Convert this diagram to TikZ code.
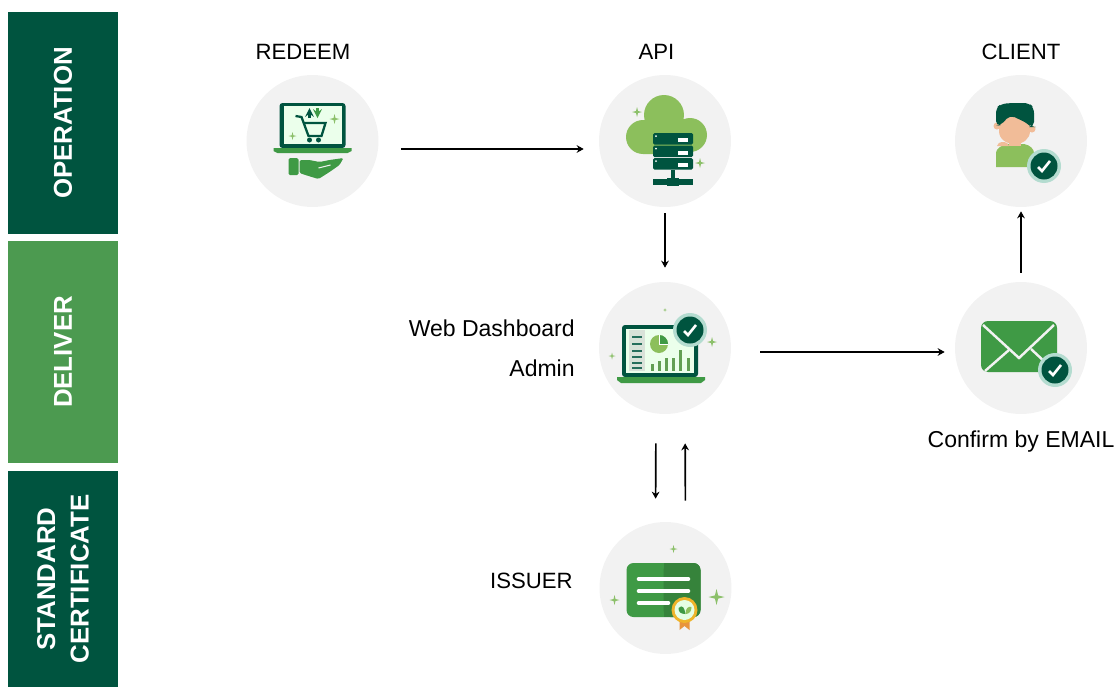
\documentclass[tikz,border=0pt]{standalone}
\usepackage{fontspec}
\setmainfont{Liberation Sans}
\usetikzlibrary{arrows.meta,positioning}
\definecolor{darkgreen}{HTML}{00543F}
\definecolor{midgreen}{HTML}{4C9A50}
\definecolor{leafgreen}{HTML}{3F9A45}
\definecolor{cloudgreen}{HTML}{8CBF5C}
\definecolor{sparkgreen}{HTML}{8CC06A}
\definecolor{halo}{HTML}{B4DCD0}
\definecolor{skin}{HTML}{F1BC98}
\definecolor{medal}{HTML}{E8943C}
\tikzstyle{iconcircle}=[circle,fill=black!5,minimum size=2.64cm,inner sep=0pt]
\tikzstyle{bar}=[rotate=90,minimum height=2.2cm,inner sep=0pt,text=white,align=center,font=\fontsize{14.7}{19}\selectfont\bfseries]
\tikzstyle{edge} = [draw,line width=0.95pt,-{Stealth[length=4pt,width=4.4pt]}]
\tikzstyle{tag} = [inner sep=0pt,font=\fontsize{13.1}{16}\selectfont]
\tikzstyle{captag} = [inner sep=0pt,font=\fontsize{12.6}{16}\selectfont]
\newcommand{\sparkle}[3]{\fill[sparkgreen] (#1,#2-#3) -- (#1+#3*0.2,#2-#3*0.2) -- (#1+#3,#2) -- (#1+#3*0.2,#2+#3*0.2) -- (#1,#2+#3) -- (#1-#3*0.2,#2+#3*0.2) -- (#1-#3,#2) -- (#1-#3*0.2,#2-#3*0.2) -- cycle;}
\newcommand{\checkbadge}[2]{
    \fill[halo] (#1,#2) circle (0.34cm);
    \fill[darkgreen] (#1,#2) circle (0.27cm);
    \draw[white,line width=1.5pt] (#1-6,#2+1) -- (#1-2,#2+5) -- (#1+6,#2-5);
}
\begin{document}
\begin{tikzpicture}[x=0.02cm,y=-0.02cm]
   \useasboundingbox (0,0) rectangle (1117,687);

   \node[bar,fill=darkgreen,minimum width=4.44cm] (operation) at (63,123) {OPERATION};
   \node[bar,fill=midgreen,minimum width=4.44cm] (deliver) at (63,352) {DELIVER};
   \node[bar,fill=darkgreen,minimum width=4.32cm] (standard) at (63,579) {STANDARD\\CERTIFICATE};

    \foreach \pos/\name in {{(312.5,141)/redeem}, {(665,141)/api}, {(1021,141)/client}, {(665,348)/dashboard}, {(1021,348)/email}, {(665.5,588)/issuer}}
            \node[iconcircle] (\name) at \pos {};

    \foreach \pos/\name/\text in {{(303,52)/redeemlabel/REDEEM}, {(656.5,52)/apilabel/API}, {(1021,52)/clientlabel/CLIENT}}
            \node[captag] (\name) at \pos {\text};
    \node[tag] (emaillabel) at (1021,442) {Confirm by EMAIL};
    \node[tag,anchor=east] (weblabel) at (575,328) {Web Dashboard};
    \node[tag,anchor=east] (adminlabel) at (575,368) {Admin};
    \node[captag,anchor=east] (issuerlabel) at (573,581) {ISSUER};

   \path[edge,shorten <=0.44cm,shorten >=0.3cm] ([yshift=-0.16cm]redeem.east) -- ([yshift=-0.16cm]api.west);
   \path[edge,shorten <=0.12cm,shorten >=0.28cm] (api.south) -- (dashboard.north);
   \path[edge,shorten <=0.58cm,shorten >=0.2cm] ([yshift=-0.08cm]dashboard.east) -- ([yshift=-0.08cm]email.west);
   \path[edge,shorten <=0.18cm,shorten >=0.08cm] (email.north) -- (client.south);
   \path[edge,shorten <=0.58cm,shorten >=0.46cm] ([xshift=-0.18cm]dashboard.south) -- ([xshift=-0.2cm]issuer.north);
   \path[edge,shorten <=0.42cm,shorten >=0.58cm] ([xshift=0.4cm]issuer.north) -- ([xshift=0.4cm]dashboard.south);

   \begin{scope}[shift={(312.5,141)}]
    \fill[darkgreen,rounded corners=0.06cm] (-33,-38) rectangle (33,7);
    \fill[white!92!green] (-29,-35) rectangle (29,3);
    \fill[leafgreen] (-39,7) -- (39,7) -- (39,10) -- (35,12) -- (-35,12) -- (-39,10) -- cycle;
    \fill[leafgreen,rounded corners=0.03cm] (-24,17) rectangle (-14,34);
    \fill[leafgreen,rounded corners=0.03cm] (-13,19) -- (-3,19) -- (7,21) -- (17,19) -- (31,17) -- (27,24) -- (17,31) -- (6,38) -- (-4,35) -- (-13,32) -- cycle;
    \draw[black!5,line width=0.6pt] (6,27) -- (18,24);
    \draw[darkgreen,line width=1.3pt] (-17,-25) -- (-11,-24) -- (-4,-5) -- (9,-5) -- (13,-18) -- (-9,-18);
    \fill[darkgreen] (-3,-1) circle (2.5) (6,-1) circle (2.5);
    \draw[darkgreen,line width=1.2pt,->,>=stealth] (-3,-23) -- (-3,-33);
    \draw[leafgreen,line width=1.2pt,->,>=stealth] (5,-33) -- (5,-23);
    \sparkle{22}{-22}{5}
    \sparkle{-20}{-5}{4}
   \end{scope}

   \begin{scope}[shift={(665,141)}]
    \fill[cloudgreen] (-1,-26) circle (0.4cm) (-22,-4) circle (0.34cm) (25,-6) circle (0.34cm) (-22,-6) rectangle (25,13);
    \fill[cloudgreen] (-18,-20) rectangle (18,0);
    \foreach \top in {-8,4.5,17}
        {
        \fill[darkgreen,rounded corners=0.03cm] (-12,\top) rectangle (28,\top+11.5);
        \fill[white] (13,\top+5) rectangle (23,\top+9);
        \fill[white] (-9,\top+3) circle (1);
        }
    \fill[darkgreen] (6,29) rectangle (10,40);
    \fill[darkgreen] (-12,38) rectangle (28,44);
    \fill[darkgreen] (2,37) rectangle (14,45);
    \sparkle{-28}{-29}{5}
    \sparkle{35}{22}{5}
   \end{scope}

   \begin{scope}[shift={(1021,141)}]
    \fill[cloudgreen] (-25,26) -- (-25,13) .. controls (-25,6) and (-18,4) .. (-12,3) -- (3,3) .. controls (9,4) and (13,8) .. (13,12) -- (13,26) -- cycle;
    \fill[skin] (-12,-2) rectangle (0,5);
    \fill[skin] (-12,5) arc (180:0:-6 and -4);
    \fill[skin] (-24,-15) circle (3.5) (11,-12) circle (3.5);
    \fill[skin] (-22,-28) -- (9,-28) -- (9,-10) .. controls (9,-2) and (2,3) .. (-6,3) .. controls (-15,3) and (-22,-2) .. (-22,-10) -- cycle;
    \fill[darkgreen,rounded corners=0.1cm] (-25,-15) -- (-25,-33) -- (-20,-37) -- (-10,-38) -- (8,-38) -- (13,-33) -- (13,-14) -- (10,-14) -- (6,-18) -- (-11,-26) -- (-20,-16) -- cycle;
    \checkbadge{23}{25}
   \end{scope}

   \begin{scope}[shift={(665,348)}]
    \fill[darkgreen,rounded corners=0.06cm] (-43,-23) rectangle (33,29);
    \fill[white!92!green] (-39,-19) rectangle (29,25);
    \fill[green!25!black!15] (-36,-18) rectangle (-20,23);
    \foreach \ly in {-12,-5,2,8,14,19}
        \fill[darkgreen!85] (-33,\ly) rectangle (-23,\ly+2);
    \fill[cloudgreen] (-6,-4) circle (0.18cm);
    \fill[leafgreen] (-6,-4) -- (-6,-13) arc (-90:0:9) -- cycle;
    \draw[white,line width=0.5pt] (-6,-4) -- (3,-4) (-6,-4) -- (-6,-13);
    \foreach \bx/\bh in {-13/7,-6/10,1/13,8/13,15/21,23/13}
        \fill[cloudgreen!70!darkgreen] (\bx-1.5,23) rectangle (\bx+1.5,23-\bh);
    \fill[leafgreen] (-48,29) -- (40,29) -- (40,32) -- (36,35) -- (-44,35) -- (-48,32) -- cycle;
    \checkbadge{25}{-18}
    \sparkle{47}{-6}{5}
    \sparkle{-53}{8}{3.5}
    \sparkle{0}{-38}{2}
   \end{scope}

   \begin{scope}[shift={(1021,348)}]
    \fill[leafgreen,rounded corners=0.14cm] (-40,-27) rectangle (36,24);
    \draw[black!5,line width=1.4pt] (-38,-23) -- (-2,10) -- (33,-23);
    \draw[black!5,line width=1.4pt] (-36,23) -- (-12,2);
    \draw[black!5,line width=1.4pt] (10,1) -- (25,15);
    \checkbadge{34}{22}
   \end{scope}

   \begin{scope}[shift={(665.5,588)}]
    \fill[leafgreen,rounded corners=0.14cm] (-39,-25) rectangle (35,29);
    \fill[leafgreen!85!black,rounded corners=0.14cm] (-2,-25) rectangle (35,29);
    \fill[leafgreen!85!black] (-2,-25) rectangle (10,29);
    \foreach \ly/\lx in {-9/23,3/23,15/3}
        \draw[white,line width=2pt,line cap=round] (-27,\ly) -- (\lx,\ly);
    \fill[medal] (14,30) -- (14,42) -- (19,38) -- (24,42) -- (24,30) -- cycle;
    \fill[medal!70!yellow] (19,22) circle (0.26cm);
    \fill[white!90!green] (19,22) circle (0.2cm);
    \fill[leafgreen] (13,20) .. controls (17,16) and (19,20) .. (20,26) .. controls (15,26) and (13,24) .. (13,20);
    \fill[cloudgreen] (20,26) .. controls (20,20) and (23,18) .. (26,19) .. controls (26,23) and (24,26) .. (20,26);
    \sparkle{8}{-39}{4}
    \sparkle{51}{9}{8}
    \sparkle{-51}{12}{5}
   \end{scope}
\end{tikzpicture}
\end{document}
